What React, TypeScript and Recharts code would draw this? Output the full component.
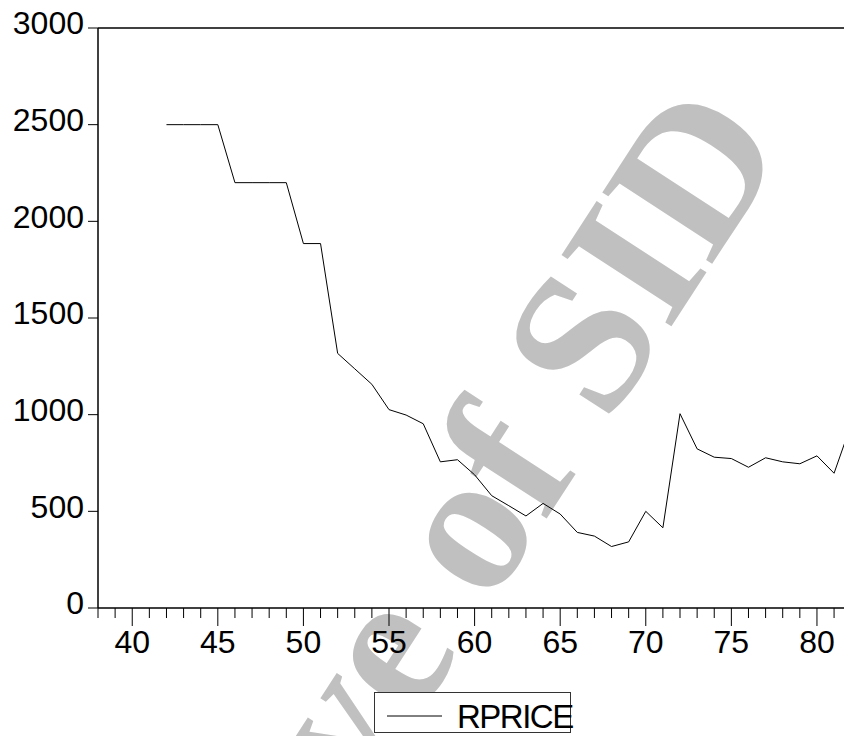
import React from 'react';
import { LineChart, Line, XAxis, YAxis, ReferenceLine } from 'recharts';

// RPRICE by year
const years = [
  42, 43, 44, 45, 46, 47, 48, 49, 50, 51, 52, 53, 54, 55, 56, 57, 58, 59, 60, 61, 62,
  63, 64, 65, 66, 67, 68, 69, 70, 71, 72, 73, 74, 75, 76, 77, 78, 79, 80, 81, 82,
];
const rprice = [
  2500, 2500, 2500, 2500, 2200, 2200, 2200, 2200, 1885, 1885, 1317, 1237, 1157, 1026, 998,
  953, 756, 767, 689, 581, 529, 476, 541, 486, 391, 372, 318, 342, 500, 415, 1005, 823,
  780, 773, 728, 777, 756, 746, 787, 697, 950,
];
const xTicks = [
  38, 39, 40, 41, 42, 43, 44, 45, 46, 47, 48, 49, 50, 51, 52, 53, 54, 55, 56, 57, 58, 59,
  60, 61, 62, 63, 64, 65, 66, 67, 68, 69, 70, 71, 72, 73, 74, 75, 76, 77, 78, 79, 80, 81,
];
const yTicks = [0, 500, 1000, 1500, 2000, 2500, 3000];
const seriesName = 'RPRICE';

const data = years.map((year, i) => ({ year, rprice: rprice[i] }));

const FONT = '"Liberation Sans", Arial, sans-serif';

const XTick = (props: any) => {
  const { x, y, payload } = props;
  const major = payload.value % 5 === 0;
  return (
    <g>
      <line x1={x} x2={x} y1={y} y2={y + (major ? 18 : 10)} stroke="#000" strokeWidth={1} />
      {major && (
        <text x={x} y={y + 22} dy="0.71em" textAnchor="middle" fontSize={32} fontFamily={FONT} fill="#000">
          {payload.value}
        </text>
      )}
    </g>
  );
};

const YTick = (props: any) => {
  const { x, y, payload } = props;
  return (
    <text x={x} y={y - 5} dy="0.355em" textAnchor="end" fontSize={32} fontFamily={FONT} fill="#000">
      {payload.value}
    </text>
  );
};

export default function App() {
  return (
    <div style={{ position: 'absolute', left: 0, top: 0, width: 844, height: 736, background: '#fff' }}>
      <svg width={844} height={736} style={{ position: 'absolute', left: 0, top: 0 }}>
        <text
          x={95}
          y={1214}
          transform="rotate(-57 95 1214)"
          fontSize={200}
          fontWeight="bold"
          fontFamily='"Liberation Serif", "Times New Roman", serif'
          fill="#c0c0c0"
        >
          Archive of SID
        </text>
      </svg>
      <div style={{ position: 'absolute', left: 0, top: 0 }}>
        <LineChart width={844} height={736} data={data} margin={{ top: 28, right: 0, left: 0, bottom: 88 }}>
          <XAxis
            dataKey="year"
            type="number"
            domain={[38, 81.58]}
            allowDataOverflow
            ticks={xTicks}
            interval={0}
            tick={XTick}
            tickLine={false}
            tickSize={0}
            tickMargin={0}
            height={40}
            axisLine={{ stroke: '#000', strokeWidth: 1.5 }}
          />
          <YAxis
            type="number"
            domain={[0, 3000]}
            ticks={yTicks}
            interval={0}
            width={98}
            tick={YTick}
            tickSize={10}
            tickMargin={4}
            tickLine={{ stroke: '#000' }}
            axisLine={{ stroke: '#000', strokeWidth: 1.5 }}
          />
          <ReferenceLine y={3000} stroke="#000" strokeWidth={1.5} />
          <Line
            type="linear"
            dataKey="rprice"
            name={seriesName}
            stroke="#000"
            strokeWidth={1}
            dot={false}
            isAnimationActive={false}
          />
        </LineChart>
      </div>
      <svg width={844} height={736} style={{ position: 'absolute', left: 0, top: 0, pointerEvents: 'none' }}>
        <rect x={374.5} y={692.5} width={196} height={40} fill="#fff" stroke="#333" strokeWidth={1} />
        <line x1={387} x2={442} y1={716} y2={716} stroke="#000" strokeWidth={1} />
        <text x={457} y={728} fontSize={33} letterSpacing={-1.5} fontFamily={FONT} fill="#000">
          {seriesName}
        </text>
      </svg>
    </div>
  );
}
